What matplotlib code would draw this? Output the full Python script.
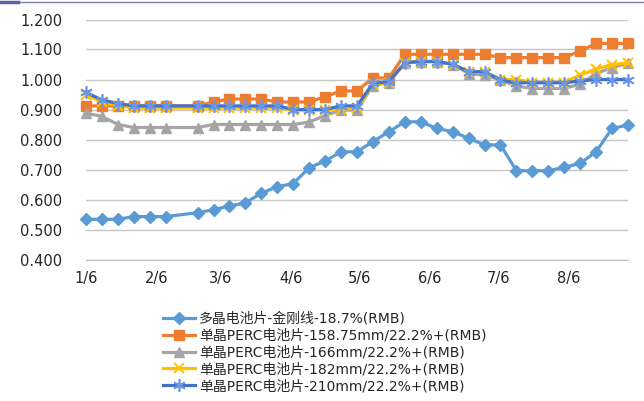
import datetime as dt
import matplotlib.pyplot as plt
from matplotlib.lines import Line2D

plt.rcParams['font.family'] = ['DejaVu Sans', 'Noto Sans CJK SC']

dates = ['2021-01-06', '2021-01-13', '2021-01-20', '2021-01-27', '2021-02-03', '2021-02-10',
         '2021-02-24', '2021-03-03', '2021-03-10', '2021-03-17', '2021-03-24', '2021-03-31',
         '2021-04-07', '2021-04-14', '2021-04-21', '2021-04-28', '2021-05-05', '2021-05-12',
         '2021-05-19', '2021-05-26', '2021-06-02', '2021-06-09', '2021-06-16', '2021-06-23',
         '2021-06-30', '2021-07-07', '2021-07-14', '2021-07-21', '2021-07-28', '2021-08-04',
         '2021-08-11', '2021-08-18', '2021-08-25', '2021-09-01']

poly_187 = [0.534, 0.534, 0.534, 0.543, 0.543, 0.543, 0.556, 0.566, 0.578, 0.589, 0.621, 0.643,
            0.653, 0.706, 0.728, 0.759, 0.759, 0.793, 0.826, 0.859, 0.859, 0.837, 0.826, 0.804,
            0.782, 0.782, 0.696, 0.696, 0.696, 0.707, 0.721, 0.759, 0.837, 0.848]
perc_158 = [0.912, 0.912, 0.912, 0.912, 0.912, 0.912, 0.912, 0.925, 0.935, 0.935, 0.935, 0.925,
            0.925, 0.925, 0.943, 0.962, 0.962, 1.005, 1.005, 1.084, 1.084, 1.084, 1.084, 1.084,
            1.084, 1.073, 1.073, 1.073, 1.073, 1.073, 1.095, 1.120, 1.120, 1.120]
perc_166 = [0.888, 0.877, 0.850, 0.840, 0.840, 0.840, 0.840, 0.850, 0.850, 0.850, 0.850, 0.850,
            0.850, 0.858, 0.880, 0.898, 0.898, 0.980, 0.990, 1.055, 1.060, 1.060, 1.050, 1.020,
            1.015, 0.998, 0.978, 0.970, 0.970, 0.970, 0.985, 1.020, 1.040, 1.054]
perc_182 = [0.950, 0.925, 0.912, 0.905, 0.905, 0.905, 0.905, 0.905, 0.905, 0.905, 0.905, 0.905,
            0.898, 0.898, 0.898, 0.900, 0.905, 0.985, 0.990, 1.055, 1.060, 1.060, 1.050, 1.025,
            1.025, 1.000, 1.000, 0.990, 0.990, 0.990, 1.015, 1.035, 1.050, 1.055]
perc_210 = [0.957, 0.932, 0.920, 0.912, 0.912, 0.912, 0.912, 0.912, 0.912, 0.912, 0.912, 0.912,
            0.900, 0.900, 0.900, 0.912, 0.912, 0.987, 0.993, 1.056, 1.060, 1.060, 1.051, 1.026,
            1.026, 0.998, 0.989, 0.989, 0.989, 0.989, 0.995, 1.000, 1.000, 1.000]

labels = ['多晶电池片-金刚线-18.7%(RMB)',
          '单晶PERC电池片-158.75mm/22.2%+(RMB)',
          '单晶PERC电池片-166mm/22.2%+(RMB)',
          '单晶PERC电池片-182mm/22.2%+(RMB)',
          '单晶PERC电池片-210mm/22.2%+(RMB)']
tick_dates = ['2021-01-06', '2021-02-06', '2021-03-06', '2021-04-06',
              '2021-05-06', '2021-06-06', '2021-07-06', '2021-08-06']
tick_labels = ['1/6', '2/6', '3/6', '4/6', '5/6', '6/6', '7/6', '8/6']

x = [dt.datetime.strptime(d, '%Y-%m-%d') for d in dates]
xt = [dt.datetime.strptime(d, '%Y-%m-%d') for d in tick_dates]

fig = plt.figure(figsize=(6.44, 4.01), dpi=100)
ax = fig.add_axes([86 / 644, 1 - 259.5 / 401, (628 - 86) / 644, 240 / 401])

styles = [
    dict(color='#5B9BD5', marker='D', ms=6, mec='#5B9BD5', mfc='#5B9BD5'),
    dict(color='#ED7D31', marker='s', ms=7, mec='#ED7D31', mfc='#ED7D31'),
    dict(color='#A5A5A5', marker='^', ms=7.5, mec='#A5A5A5', mfc='#A5A5A5'),
    dict(color='#FFC000', marker='x', ms=7.5, mec='#FFC000', mew=1.4),
    dict(color='#4472C4', marker=(6, 2, 0), ms=9, mec='#6B96E6', mew=1.2),
]
series = [poly_187, perc_158, perc_166, perc_182, perc_210]
for ys, st in zip(series, styles):
    ax.plot(x, ys, lw=2.3, solid_joinstyle='round', clip_on=False, **st)

ax.set_xlim(x[0], x[-1])
ax.set_ylim(0.4, 1.2)
ax.set_yticks([0.4, 0.5, 0.6, 0.7, 0.8, 0.9, 1.0, 1.1, 1.2])
ax.set_yticklabels(['%.3f' % v for v in ax.get_yticks()])
ax.set_xticks(xt)
ax.set_xticklabels(tick_labels)
ax.grid(axis='y', color='#C6C6C6', lw=1)
ax.set_axisbelow(True)
for s in ['top', 'right', 'left']:
    ax.spines[s].set_visible(False)
ax.spines['bottom'].set_color('#BDBDBD')
ax.tick_params(length=0, labelsize=10.5, colors='#262626')
ax.tick_params(axis='y', pad=17)
ax.tick_params(axis='x', pad=8)

handles = [Line2D([], [], lw=2.3, **st) for st in styles]
fig.legend(handles, labels, loc='upper left', bbox_to_anchor=(163 / 644, 1 - 312 / 401),
           frameon=False, fontsize=10, handlelength=2.3, handletextpad=0.3,
           labelspacing=0.2, borderaxespad=0, borderpad=0, labelcolor='#262626')

# thin frame line along the top edge
fig.add_artist(Line2D([0, 1], [1 - 1.5 / 401] * 2, color='#7C7FB0', lw=1))
fig.add_artist(Line2D([0, 18 / 644], [1 - 2 / 401] * 2, color='#5F62A0', lw=2.5))

fig.savefig('out.png', dpi=100)
